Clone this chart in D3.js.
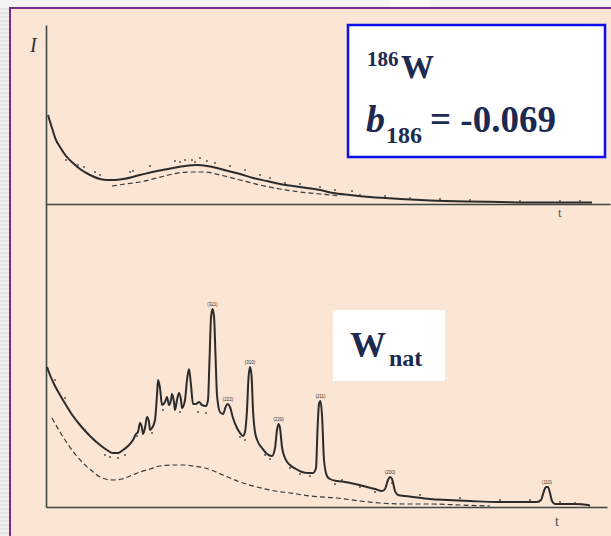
<!DOCTYPE html>
<html>
<head>
<meta charset="utf-8">
<script src="https://cdn.jsdelivr.net/npm/d3@7"></script>
<style>
  html, body { margin: 0; padding: 0; background: #f2f2f2; }
  svg { display: block; }
</style>
</head>
<body>
<svg id="chart" width="611" height="536"></svg>
<script>
// ---- Upper panel: 186W (time-of-flight t, intensity I) ----
const topT = [2,6,10,14,20,27,34,44,54,61,69,77,94,111,127,139,151,161,171,182,194,207,221,234,247,261,274,287,304,324,354,384,421,454,487,514,546];
const topI = [89,76,64,57,48,41,35,29,25,24,24,25,29,33,36,38,39,38,36,33,30,26,23,20,18,16,14,11,9,7,5,3.5,2.5,2,1.5,1.5,1.5];
const topDashT = [66,79,94,111,127,144,159,174,194,214,234,254,274,294];
const topDashI = [18,20,22,26,30,32,32,29,24,19,15,12,10,8];
const topDotT = [20,32,38,49,54,84,87,104,129,134,139,146,149,154,161,169,184,199,214,224,239,254,264,274,289,306,314,339,364,394,424,474,514,534];
const topDotI = [44,39,37,32,29,32,33,38,43,42,44,44,42,46,43,41,38,34,29,26,21,20,16,17,14,13,9,8,6,5,4,3,3,3];

// ---- Lower panel: natural W with Bragg reflections ----
const botT = [1,4,8,14,20,27,34,44,54,61,67,72,77,82,87,90,92,94,96,97,99,101,103,104,106,109,111,112,114,116,119,121,123,125,126,128,129,131,133,135,136,139,141,143,145,147,150,153,156,160,162,163.5,165,166.5,168,169.5,171,174,177,180,182,184,187,191,194,197,199,201,202.5,204,205.5,207,209,212,216,221,226,229,231,232.5,234,236,239,244,250,256,262,267,270,271.5,273,274.5,276,278,281,284,291,299,309,321,329,336,339,342,344,346,349,352,359,367,384,401,424,451,474,491,495,498,500,502,504,506,509,517,529,542,544];
const botI = [140,132,123,112,102,91,82,71,62,57,54,54,57,61,67,73,75,84,79,73,79,90,85,77,79,87,112,127,119,102,105,110,102,107,113,105,97,107,114,107,99,107,127,138,122,103,103,105,102,101,107,147,189,198,191,152,112,95,93,101,103,100,89,79,74,71,75,97,129,140,132,97,75,65,59,53,51,59,77,83,79,60,49,42,38,35,34,34,39,77,103,106,92,47,31,28,26,25,23,20,18,16,18,27,30,28,16,12,11,10,8,7,6,5,5,5,7,16,20,20,14,6,3,3,3,2,1];
const botDashT = [6,14,21,29,37,46,54,67,76,84,94,104,114,127,139,147,159,177,194,211,229,244,264,291,314,334,359,384,414,444];
const botDashI = [89,75,64,53,44,36,30,27,28,31,35,38,41,42,42,41,39,32,25,20,16,14,11,9,6,4,3,3,2,1];
const botDotT = [9,19,39,59,64,72,79,91,106,117,134,152,160,194,199,219,224,244,254,264,289,296,314,329,346,374,414,454,484,514,529];
const botDotI = [127,109,77,52,50,49,52,71,74,97,95,95,94,70,67,52,48,39,33,31,23,27,20,15,24,12,9,7,7,5,4];

// Reflection labels (hkl) and the peak each one sits on
const peakLabels = ["(321)","(222)","(310)","(220)","(211)","(200)","(110)"];
const peakT = [166.5,182,204,232.5,274.5,344,501];
const peakI = [198,103,140,83,106,30,20];

const svg = d3.select("#chart");
const W = 611, H = 536;

// ---- slide frame ----
const frame = svg.append("g");
frame.append("rect").attr("width", W).attr("height", H).attr("fill", "#f1f1f1");
frame.selectAll("rect.stripe").data(d3.range(0, H, 4)).join("rect")
  .attr("class", "stripe").attr("x", 0).attr("y", d => d).attr("width", 10).attr("height", 2)
  .attr("fill", "#e4e4e4");
frame.append("rect").attr("x", 0).attr("y", 0).attr("width", W).attr("height", 8).attr("fill", "#f4f4f4");
frame.append("rect").attr("x", 390).attr("y", 0).attr("width", 40).attr("height", 8).attr("fill", "#fafafa");
frame.append("rect").attr("x", 11).attr("y", 9).attr("width", W - 11).attr("height", H - 9).attr("fill", "#fbe5d4");
frame.append("line").attr("x1", 10).attr("x2", 10).attr("y1", 8).attr("y2", H)
  .attr("stroke", "#7b2d8e").attr("stroke-width", 2);
frame.append("line").attr("x1", 9).attr("x2", W).attr("y1", 8).attr("y2", 8)
  .attr("stroke", "#7b2d8e").attr("stroke-width", 2);

// ---- scales ----
const x = d3.scaleLinear().domain([0, 565]).range([46, 611]);
const yTop = d3.scaleLinear().domain([0, 180]).range([204, 24]);
const yBot = d3.scaleLinear().domain([0, 200]).range([507, 307]);
const yAxisScale = d3.scaleLinear().domain([0, 1]).range([507, 25]);

const ink = "#2b2b2b";
const axisColor = "#3f4640";

// ---- axes (bare lines, no ticks) ----
const gAxes = svg.append("g");
gAxes.append("g").attr("transform", "translate(46,0)")
  .call(d3.axisLeft(yAxisScale).tickValues([]).tickSizeOuter(0));
gAxes.append("g").attr("transform", `translate(0,${yTop(0)})`)
  .call(d3.axisBottom(x.copy().range([46, 610])).tickValues([]).tickSizeOuter(0));
gAxes.append("g").attr("transform", `translate(0,${yBot(0)})`)
  .call(d3.axisBottom(x.copy().range([46, 607])).tickValues([]).tickSizeOuter(0));
gAxes.selectAll(".domain").attr("stroke", axisColor).attr("stroke-width", 1.6);

// ---- helpers ----
const zip = (a, b) => a.map((v, i) => [v, b[i]]);
function drawLine(yScale, tArr, iArr, dashed) {
  const line = d3.line().x(d => x(d[0])).y(d => yScale(d[1])).curve(d3.curveMonotoneX);
  svg.append("path").datum(zip(tArr, iArr))
    .attr("d", line).attr("fill", "none")
    .attr("stroke", dashed ? "#3a3a3a" : ink)
    .attr("stroke-width", dashed ? 1.2 : 2)
    .attr("stroke-dasharray", dashed ? "5,3" : null)
    .attr("stroke-linejoin", "round");
}
function drawDots(yScale, tArr, iArr) {
  svg.append("g").selectAll("circle").data(zip(tArr, iArr)).join("circle")
    .attr("cx", d => x(d[0])).attr("cy", d => yScale(d[1])).attr("r", 0.9)
    .attr("fill", "#444");
}

// upper panel
drawLine(yTop, topDashT, topDashI, true);
drawLine(yTop, topT, topI, false);
drawDots(yTop, topDotT, topDotI);

// lower panel
drawLine(yBot, botDashT, botDashI, true);
drawLine(yBot, botT, botI, false);
drawDots(yBot, botDotT, botDotI);

// reflection labels
svg.append("g").selectAll("text").data(peakLabels).join("text")
  .attr("x", (d, i) => x(peakT[i]))
  .attr("y", (d, i) => yBot(peakI[i]) - 3)
  .attr("text-anchor", "middle")
  .attr("font-family", "Liberation Sans, sans-serif")
  .attr("font-size", 4.5)
  .attr("fill", "#333")
  .text(d => d);

// axis letters
const serif = "Liberation Serif, DejaVu Serif, serif";
svg.append("text").attr("x", 30).attr("y", 52).attr("font-family", serif)
  .attr("font-style", "italic").attr("font-size", 20).attr("fill", "#333").text("I");
svg.append("text").attr("x", 558).attr("y", 217).attr("font-family", serif)
  .attr("font-size", 13).attr("fill", "#555").text("t");
svg.append("text").attr("x", 555).attr("y", 526).attr("font-family", serif)
  .attr("font-size", 14).attr("fill", "#444").text("t");

// ---- annotation boxes ----
const navy = "#1c2a52";
svg.append("rect").attr("x", 348).attr("y", 25).attr("width", 257).attr("height", 132)
  .attr("fill", "#fff").attr("stroke", "#0d0df2").attr("stroke-width", 2.5);
svg.append("text").attr("x", 367).attr("y", 66).attr("font-family", serif)
  .attr("font-weight", "bold").attr("font-size", 21).attr("fill", navy).text("186");
svg.append("text").attr("x", 401).attr("y", 78).attr("font-family", serif)
  .attr("font-weight", "bold").attr("font-size", 33).attr("fill", navy).text("W");
svg.append("text").attr("x", 366).attr("y", 132).attr("font-family", serif)
  .attr("font-weight", "bold").attr("font-style", "italic").attr("font-size", 38).attr("fill", navy).text("b");
svg.append("text").attr("x", 386).attr("y", 143).attr("font-family", serif)
  .attr("font-weight", "bold").attr("font-size", 24).attr("fill", navy).text("186");
svg.append("text").attr("x", 430).attr("y", 132).attr("font-family", serif)
  .attr("font-weight", "bold").attr("font-size", 37).attr("fill", navy).text("= -0.069");

svg.append("rect").attr("x", 333).attr("y", 310).attr("width", 112).attr("height", 71).attr("fill", "#fff");
svg.append("text").attr("x", 350).attr("y", 357).attr("font-family", serif)
  .attr("font-weight", "bold").attr("font-size", 36).attr("fill", navy).text("W");
svg.append("text").attr("x", 389).attr("y", 366).attr("font-family", serif)
  .attr("font-weight", "bold").attr("font-size", 24).attr("fill", navy).text("nat");
</script>
</body>
</html>
